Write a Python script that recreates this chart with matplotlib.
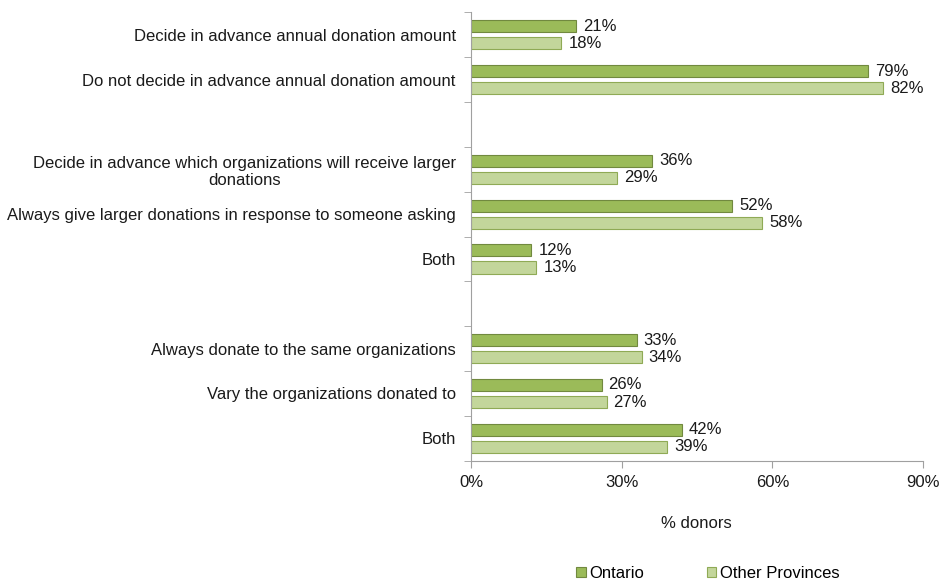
import matplotlib.pyplot as plt
import numpy as np

plt.rcParams['font.family'] = ['Liberation Sans', 'DejaVu Sans']

# categories top to bottom, "" = spacer slot
categories = [
    "Decide in advance annual donation amount",
    "Do not decide in advance annual donation amount",
    "",
    "Decide in advance which organizations will receive larger\ndonations",
    "Always give larger donations in response to someone asking",
    "Both",
    "",
    "Always donate to the same organizations",
    "Vary the organizations donated to",
    "Both",
]
ontario = [21, 79, None, 36, 52, 12, None, 33, 26, 42]
other = [18, 82, None, 29, 58, 13, None, 34, 27, 39]

ON_COLOR = "#9BBB59"
ON_EDGE = "#71893F"
OT_COLOR = "#C3D69B"
OT_EDGE = "#8FAA55"
TXT = "#1a1a1a"
FS = 12

fig = plt.figure(figsize=(9.4, 5.84), dpi=100)
ax = fig.add_axes([0.501, 0.211, 0.481, 0.768])

n = len(categories)
y = np.arange(n)
h = 0.27
off = 0.19

for i in range(n):
    if ontario[i] is None:
        continue
    ax.barh(y[i] - off, ontario[i], height=h, color=ON_COLOR, edgecolor=ON_EDGE, linewidth=0.8)
    ax.barh(y[i] + off, other[i], height=h, color=OT_COLOR, edgecolor=OT_EDGE, linewidth=0.8)
    ax.text(ontario[i] + 1.4, y[i] - off, f"{ontario[i]}%", va="center", ha="left", fontsize=FS, color=TXT)
    ax.text(other[i] + 1.4, y[i] + off, f"{other[i]}%", va="center", ha="left", fontsize=FS, color=TXT)

ax.set_ylim(n - 0.5, -0.5)
ax.set_xlim(0, 90)
ax.set_yticks(y)
ax.set_yticklabels(categories, fontsize=FS, color=TXT, multialignment="center")
ax.tick_params(axis="y", which="major", length=0, pad=11)
ax.set_yticks(np.arange(-0.5, n, 1.0), minor=True)
ax.tick_params(axis="y", which="minor", length=5, color="#A0A0A0", direction="out")
ax.set_xticks([0, 30, 60, 90])
ax.set_xticklabels(["0%", "30%", "60%", "90%"], fontsize=FS, color=TXT)
ax.tick_params(axis="x", length=5, color="#A0A0A0", pad=5)

for s in ["top", "right"]:
    ax.spines[s].set_visible(False)
for s in ["left", "bottom"]:
    ax.spines[s].set_color("#A0A0A0")

fig.text(0.741, 0.104, "% donors", ha="center", va="center", fontsize=FS, color=TXT)

handles = [
    plt.Rectangle((0, 0), 1, 1, facecolor=ON_COLOR, edgecolor=ON_EDGE, linewidth=0.8),
    plt.Rectangle((0, 0), 1, 1, facecolor=OT_COLOR, edgecolor=OT_EDGE, linewidth=0.8),
]
fig.legend(handles, ["Ontario", "Other Provinces"], loc="center", bbox_to_anchor=(0.753, 0.018),
           ncol=2, frameon=False, fontsize=FS, handlelength=0.55, handleheight=0.55,
           handletextpad=0.2, columnspacing=3.8)

fig.savefig("out.png", dpi=100)
